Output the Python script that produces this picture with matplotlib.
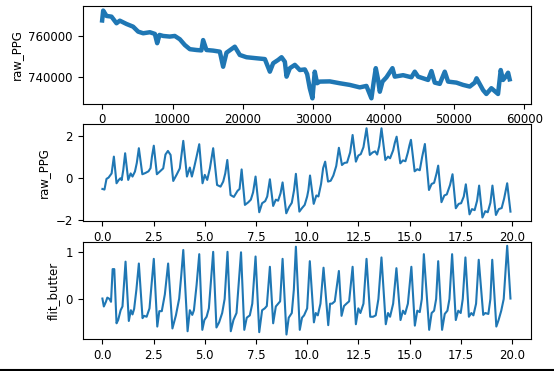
import numpy as np
import matplotlib
matplotlib.use('Agg')
import matplotlib.pyplot as plt
from matplotlib.lines import Line2D

plt.rcParams['font.size'] = 8.5

# full recording (sample index, raw value)
raw_idx = [0, 150, 620, 1330, 2040, 2510, 3460, 4400, 5110, 5830,
           6780, 7490, 7820, 8150, 8670, 9610, 10320, 11040, 11750, 12460,
           13400, 14100, 14350, 14820, 15770, 16720, 17190, 17670, 18850, 19560,
           20510, 21930, 23120, 23830, 24300, 25010, 25490, 25960, 26200, 26670,
           27380, 28090, 28800, 29130, 29500, 29880, 30210, 30540, 30920, 32340,
           33760, 35180, 36600, 37550, 38260, 38590, 38880, 39210, 39450, 39830,
           40400, 41250, 41580, 42760, 43940, 44420, 44890, 45600, 46310, 46790,
           47260, 47970, 48680, 49150, 50340, 51280, 52230, 52940, 53200, 54120,
           54590, 55300, 56250, 56630, 56960, 57340, 57680, 57900]
raw_val = [767500, 772300, 769700, 769350, 766150, 767400, 765800, 764500, 762100, 761300,
           761800, 761000, 756500, 760500, 760000, 759700, 760000, 758400, 755600, 753600,
           753200, 753000, 758000, 753200, 752900, 752400, 745100, 751900, 754800, 750800,
           749700, 749200, 748800, 742700, 746800, 748400, 749700, 747500, 740300, 744400,
           746000, 743500, 743800, 741500, 734700, 729800, 742700, 737100, 737900, 738000,
           737100, 736300, 735100, 735800, 729800, 737900, 744400, 738700, 733000, 737900,
           740000, 744400, 740300, 741000, 740000, 742700, 740300, 739500, 738700, 743000,
           737400, 736800, 742700, 737900, 737400, 736300, 735500, 737400, 739500, 733800,
           731900, 734700, 731900, 743500, 738700, 740300, 742200, 739000]

# 20 s window, normalised raw signal (time, value)
t_raw = [0.0, 0.1, 0.2, 0.3, 0.45,
         0.56, 0.69, 0.8, 0.88, 0.94, 1.02,
         1.11, 1.26, 1.38, 1.47, 1.59, 1.68,
         1.78, 1.95, 2.1, 2.25, 2.35, 2.42,
         2.51, 2.66, 2.84, 2.97, 3.08,
         3.2, 3.33, 3.46, 3.62, 3.78,
         3.95, 4.13, 4.27, 4.37, 4.48, 4.6,
         4.73, 4.89, 5.0, 5.12, 5.25,
         5.41, 5.6, 5.77, 5.9, 6.0,
         6.1, 6.26, 6.42, 6.6, 6.7,
         6.8, 6.96, 7.12, 7.25, 7.36,
         7.48, 7.66, 7.8, 7.95, 8.05,
         8.18, 8.34, 8.47, 8.58, 8.7,
         8.8, 8.98, 9.12, 9.25, 9.36,
         9.45, 9.62, 9.75, 9.88, 10.0, 10.06,
         10.14, 10.32, 10.45, 10.55, 10.68, 10.78,
         10.88, 11.02, 11.15, 11.28, 11.42,
         11.55, 11.7, 11.82, 11.95, 12.1,
         12.22, 12.38, 12.5, 12.62, 12.75,
         12.9, 13.06, 13.2, 13.32, 13.42, 13.52,
         13.63, 13.82, 13.95, 14.05, 14.2, 14.28,
         14.37, 14.55, 14.68, 14.8, 14.92, 15.0,
         15.07, 15.25, 15.38, 15.5, 15.62,
         15.75, 15.95, 16.08, 16.2, 16.32,
         16.4, 16.56, 16.7, 16.82, 16.98,
         17.1, 17.26, 17.4, 17.52, 17.65,
         17.75, 17.93, 18.05, 18.18, 18.3,
         18.4, 18.56, 18.7, 18.82, 18.95,
         19.05, 19.22, 19.36, 19.5, 19.62,
         19.77, 19.93]
v_raw = [-0.54, -0.57, -0.06, 0.0, 0.2,
         1.0, -0.27, -0.11, -0.03, -0.12, 0.37,
         1.16, -0.11, 0.2, 0.05, 0.29, 0.7,
         1.4, 0.16, 0.22, 0.3, 0.45, 1.0,
         1.52, 0.16, 0.32, 0.44, 1.1,
         1.27, 1.08, -0.16, 0.13, 0.44,
         1.75, 0.05, 0.48, 0.05, 0.48, 1.0,
         1.59, -0.27, 0.13, -0.11, 0.44,
         1.4, -0.35, -0.43, -0.19, 0.2,
         0.84, -0.83, -0.92, -0.63, -0.54,
         0.39, -1.3, -1.18, -1.05, -0.7,
         0.05, -1.65, -1.22, -1.12, -0.9,
         -0.08, -1.35, -1.05, -1.1, -0.75,
         -0.23, -1.7, -1.4, -1.2, -0.6,
         0.18, -1.62, -1.45, -1.3, -0.9, -0.6,
         0.1, -1.25, -0.85, -0.9, -0.3, 0.45,
         0.76, -0.19, -0.15, 0.1, 0.55,
         1.42, 0.6, 0.7, 0.72, 1.2,
         2.03, 0.76, 1.05, 1.12, 1.45,
         2.35, 1.08, 1.2, 1.25, 1.1, 1.5,
         2.35, 0.84, 1.0, 0.92, 1.3, 1.65,
         1.95, 0.68, 0.82, 0.78, 1.2, 1.55,
         1.8, 0.3, 0.4, 0.35, 1.0,
         1.6, -0.59, -0.3, -0.25, 0.2,
         0.57, -1.17, -0.85, -0.8, -0.35,
         0.16, -1.46, -1.25, -1.22, -0.9,
         -0.32, -1.75, -1.5, -1.55, -1.1,
         -0.38, -1.9, -1.6, -1.65, -1.2,
         -0.38, -1.78, -1.5, -1.45, -1.0,
         -0.27, -1.62]

# same window after the butterworth filter
t_flt = [0.0, 0.07, 0.17, 0.24, 0.35, 0.42,
         0.5, 0.58, 0.69, 0.77, 0.89, 0.98,
         1.13, 1.29, 1.39, 1.47, 1.55, 1.66,
         1.78, 1.96, 2.04, 2.16, 2.3,
         2.51, 2.68, 2.78, 2.9, 3.05,
         3.21, 3.42, 3.59, 3.75, 3.85,
         3.95, 4.16, 4.27, 4.39, 4.47, 4.6,
         4.73, 4.88, 4.98, 5.09, 5.2,
         5.41, 5.57, 5.7, 5.85, 5.97,
         6.11, 6.27, 6.4, 6.55,
         6.77, 6.93, 7.05, 7.2, 7.32,
         7.48, 7.66, 7.8, 7.93, 8.03,
         8.18, 8.34, 8.47, 8.6, 8.68,
         8.8, 8.99, 9.1, 9.25, 9.35,
         9.45, 9.64, 9.75, 9.85, 10.0,
         10.13, 10.33, 10.42, 10.52, 10.65,
         10.8, 11.03, 11.12, 11.22, 11.35,
         11.55, 11.68, 11.8, 11.92, 12.05,
         12.22, 12.38, 12.5, 12.6, 12.75,
         12.9, 13.08, 13.22, 13.35, 13.48,
         13.63, 13.84, 13.95, 14.05, 14.2,
         14.36, 14.56, 14.68, 14.78, 14.92,
         15.09, 15.26, 15.38, 15.5, 15.6,
         15.7, 15.96, 16.08, 16.2, 16.3,
         16.4, 16.59, 16.72, 16.85, 16.95,
         17.08, 17.26, 17.38, 17.5, 17.6,
         17.73, 17.9, 18.02, 18.12, 18.25,
         18.38, 18.6, 18.7, 18.85, 18.95,
         19.04, 19.24, 19.35, 19.48, 19.6,
         19.77, 19.93]
v_flt = [0.01, -0.16, -0.06, 0.03, 0.0, -0.06,
         0.64, 0.64, -0.52, -0.45, -0.24, -0.16,
         0.8, -0.47, -0.24, -0.33, -0.21, 0.2,
         0.76, -0.41, -0.36, -0.38, -0.2,
         0.86, -0.59, -0.26, -0.26, 0.1,
         0.76, -0.63, -0.35, 0.01, 0.5,
         1.05, -0.69, -0.24, -0.34, -0.24, 0.3,
         0.96, -0.66, -0.45, -0.38, -0.2,
         1.01, -0.61, -0.5, -0.3, 0.0,
         1.01, -0.69, -0.45, -0.3,
         1.0, -0.66, -0.4, -0.35, -0.1,
         0.91, -0.71, -0.24, -0.2, -0.15,
         0.69, -0.52, -0.16, -0.09, -0.05,
         0.86, -0.76, -0.4, -0.3, 0.2,
         1.12, -0.66, -0.4, -0.35, -0.2,
         0.81, -0.5, -0.3, -0.35, -0.1,
         0.67, -0.56, -0.1, -0.1, -0.05,
         0.6, -0.36, -0.15, -0.1, -0.05,
         0.69, -0.54, -0.2, -0.3, -0.1,
         0.86, -0.38, -0.38, -0.35, 0.0,
         0.89, -0.54, -0.3, -0.38, -0.1,
         0.66, -0.45, -0.25, -0.32, -0.1,
         0.69, -0.57, -0.25, -0.28, 0.0,
         0.96, -0.66, -0.3, -0.25, 0.0,
         0.81, -0.66, -0.32, -0.25, 0.0,
         0.96, -0.45, -0.25, -0.3, 0.0,
         0.89, -0.38, -0.3, -0.35, -0.1,
         0.84, -0.34, -0.3, -0.32, 0.0,
         0.84, -0.59, -0.45, -0.25, 0.0,
         1.14, 0.01]

fig = plt.figure(figsize=(5.54, 3.71), dpi=100)
ax1 = fig.add_axes([0.149, 0.7205, 0.809, 0.2633])
ax2 = fig.add_axes([0.149, 0.403, 0.809, 0.262])
ax3 = fig.add_axes([0.149, 0.0854, 0.809, 0.2615])

ax1.plot(raw_idx, raw_val, color='#1f77b4', lw=3.2)
ax1.set_xlim(-2784, 60895)
ax1.set_ylim(727200, 774500)
ax1.set_xticks(np.arange(0, 60001, 10000))
ax1.set_yticks([740000, 760000])
ax1.ticklabel_format(useOffset=False, style='plain')
ax1.set_ylabel('raw_PPG')

ax2.plot(t_raw, v_raw, color='#1f77b4', lw=1.5)
ax2.set_xlim(-0.97, 20.92)
ax2.set_ylim(-2.09, 2.54)
ax2.set_xticks(np.arange(0, 20.1, 2.5))
ax2.set_yticks([-2, 0, 2])
ax2.set_ylabel('raw_PPG')

ax3.plot(t_flt, v_flt, color='#1f77b4', lw=1.5)
ax3.set_xlim(-0.97, 20.92)
ax3.set_ylim(-0.863, 1.214)
ax3.set_xticks(np.arange(0, 20.1, 2.5))
ax3.set_yticks([0, 1])
ax3.set_ylabel('flit_butter')

# dark border line along the bottom of the screenshot
fig.add_artist(Line2D([0, 1], [0.003, 0.003], color='black', lw=1.5))

fig.savefig('out.png', dpi=100)
